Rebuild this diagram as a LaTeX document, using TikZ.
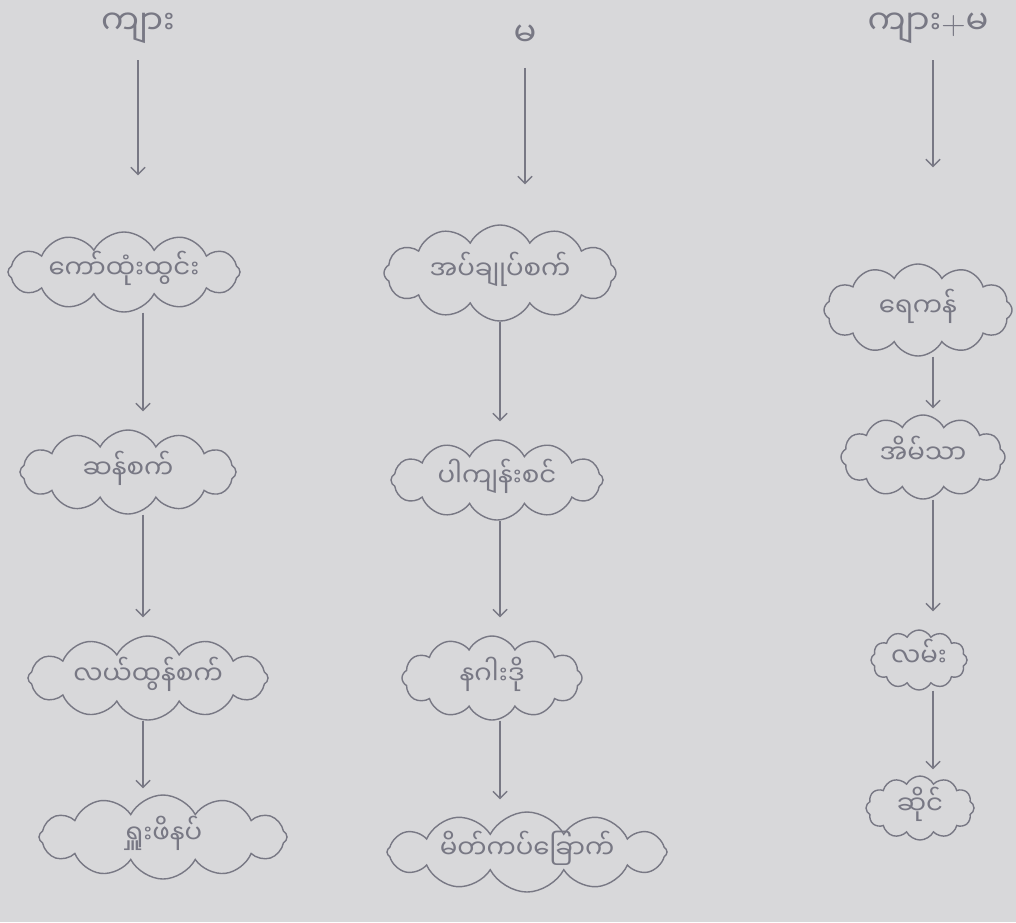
\documentclass[tikz,border=0pt]{standalone}
\usepackage{fontspec}
\newfontfamily\mya[Script=Myanmar]{Noto Sans Myanmar UI}
\usetikzlibrary{shapes.symbols,arrows.meta}
\definecolor{paper}{RGB}{216,216,218}
\definecolor{pencil}{RGB}{120,120,132}
\tikzset{
	puff/.style={cloud, cloud ignores aspect, draw=pencil, line width=1pt, cloud puffs=12, cloud puff arc=125, inner sep=0pt, text height=0.4cm, text depth=0.1cm, text=pencil, font=\mya\fontsize{18.5}{22}\selectfont},
	head/.style={text=pencil, font=\mya\fontsize{24}{28}\selectfont},
	flow/.style={draw=pencil, line width=1pt, -{Straight Barb[length=5pt,width=10pt]}, shorten >=0.45cm}
}
\begin{document}
\begin{tikzpicture}[x=0.025cm,y=-0.025cm]
		\fill[paper] (0,0) rectangle (1016,922);
		\useasboundingbox (0,0) rectangle (1016,922);

		\node[head] (male) at (138,28) {ကျား};
		\node[head] (female) at (525,36) {မ};
		\node[head] (both) at (928,28) {ကျား{\normalfont +}မ};

		\coordinate (colA) at (143,0);
		\coordinate (colB) at (500,0);
		\coordinate (colC) at (933,0);

		\node[puff, minimum width=5.8cm, minimum height=2.0cm] (m1) at (124,272) {ကော်ထုံးထွင်း};
		\node[puff, minimum width=5.4cm, minimum height=2.1cm] (m2) at (128,472) {ဆန်စက်};
		\node[puff, minimum width=6.0cm, minimum height=2.1cm] (m3) at (148,678) {လယ်ထွန်စက်};
		\node[puff, minimum width=6.2cm, minimum height=2.1cm] (m4) at (163,837) {ရှူးဖိနပ်};

		\node[puff, minimum width=5.8cm, minimum height=2.4cm] (f1) at (500,273) {အပ်ချုပ်စက်};
		\node[puff, minimum width=5.3cm, minimum height=2.0cm] (f2) at (497,480) {ပါကျန်းစင်};
		\node[puff, minimum width=4.5cm, minimum height=2.1cm] (f3) at (492,678) {နဂါးဒို};
		\node[puff, minimum width=7.0cm, minimum height=2.0cm] (f4) at (527,852) {မိတ်ကပ်ခြောက်};

		\node[puff, minimum width=4.7cm, minimum height=2.3cm] (b1) at (918,310) {ရေကန်};
		\node[puff, minimum width=4.1cm, minimum height=2.1cm] (b2) at (923,457) {အိမ်သာ};
		\node[puff, minimum width=2.4cm, minimum height=1.5cm] (b3) at (919,660) {လမ်း};
		\node[puff, minimum width=2.7cm, minimum height=1.6cm] (b4) at (920,808) {ဆိုင်};

		\draw[flow, shorten <=0.3cm, shorten >=1.4cm] (male.south) -- (male.south |- m1.north);
		\draw[flow] (m1.south -| colA) -- (m2.north -| colA);
		\draw[flow] (m2.south -| colA) -- (m3.north -| colA);
		\draw[flow, shorten >=0.15cm] (m3.south -| colA) -- (m4.north -| colA);

		\draw[flow, shorten <=0.4cm, shorten >=1.0cm] (female.south) -- (female.south |- f1.north);
		\draw[flow] (f1.south -| colB) -- (f2.north -| colB);
		\draw[flow] (f2.south -| colB) -- (f3.north -| colB);
		\draw[flow, shorten >=0.3cm] (f3.south -| colB) -- (f4.north -| colB);

		\draw[flow, shorten <=0.3cm, shorten >=2.4cm] (both.south -| colC) -- (b1.north -| colC);
		\draw[flow, shorten >=0.15cm] (b1.south -| colC) -- (b2.north -| colC);
		\draw[flow] (b2.south -| colC) -- (b3.north -| colC);
		\draw[flow, shorten >=0.15cm] (b3.south -| colC) -- (b4.north -| colC);
\end{tikzpicture}
\end{document}
